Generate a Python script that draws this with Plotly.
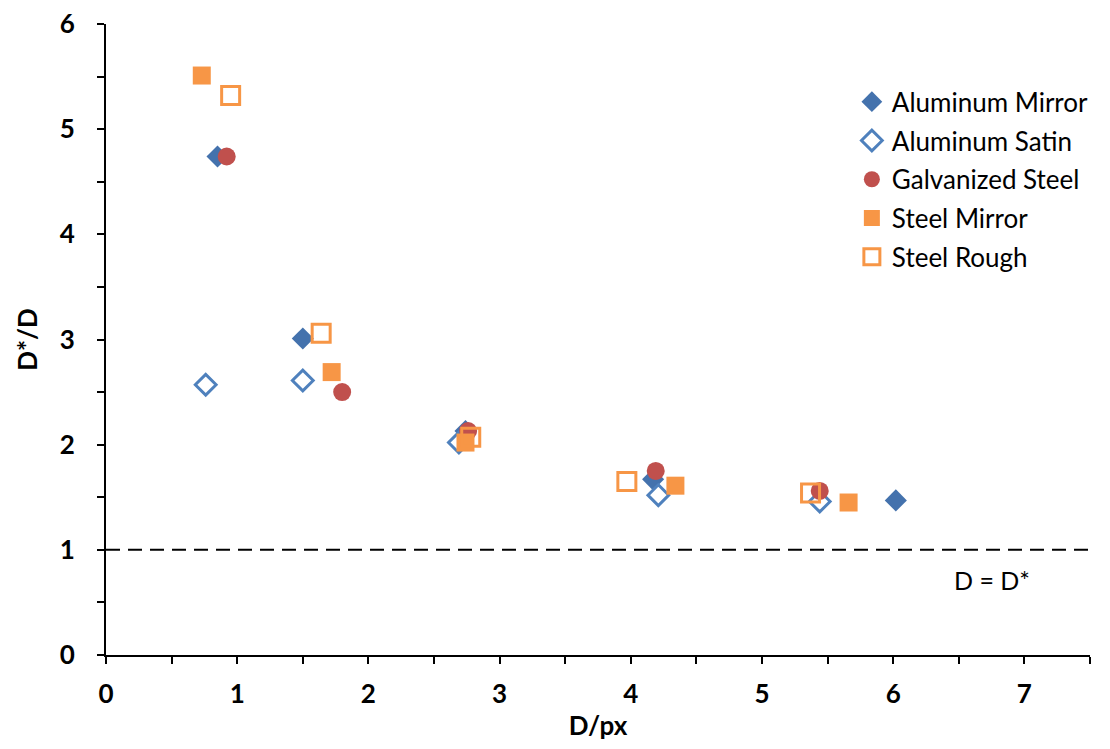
import plotly.graph_objects as go

al_mirror_x = [0.85, 1.50, 2.74, 4.17, 6.02]
al_mirror_y = [4.74, 3.01, 2.13, 1.67, 1.47]
al_satin_x = [0.76, 1.50, 2.69, 4.21, 5.44]
al_satin_y = [2.57, 2.61, 2.02, 1.52, 1.46]
galv_x = [0.92, 1.80, 2.76, 4.19, 5.44]
galv_y = [4.74, 2.50, 2.13, 1.75, 1.56]
st_mirror_x = [0.73, 1.72, 2.74, 4.34, 5.66]
st_mirror_y = [5.51, 2.69, 2.02, 1.61, 1.45]
st_rough_x = [0.95, 1.64, 2.78, 3.97, 5.37]
st_rough_y = [5.32, 3.06, 2.07, 1.65, 1.54]
ref_x = [0, 7.5]
ref_y = [1, 1]

blue = "#4472AD"
blue2 = "#4F81BD"
red = "#C0504D"
orange = "#F79646"
FONT = "Lato"

fig = go.Figure()
fig.add_trace(go.Scatter(x=ref_x, y=ref_y, mode="lines", showlegend=False,
                         line=dict(color="black", width=2, dash="14px,8px")))
fig.add_trace(go.Scatter(x=al_mirror_x, y=al_mirror_y, mode="markers", name="Aluminum Mirror",
                         legendgroup="a",
                         marker=dict(symbol="diamond", size=17, color=blue)))
fig.add_trace(go.Scatter(x=al_satin_x, y=al_satin_y, mode="markers", name="Aluminum Satin",
                         legendgroup="b",
                         marker=dict(symbol="diamond-open", size=16, color=blue2, line=dict(width=3, color=blue2))))
fig.add_trace(go.Scatter(x=galv_x, y=galv_y, mode="markers", name="Galvanized Steel",
                         legendgroup="c",
                         marker=dict(symbol="circle", size=18, color=red)))
fig.add_trace(go.Scatter(x=st_mirror_x, y=st_mirror_y, mode="markers", name="Steel Mirror",
                         legendgroup="d",
                         marker=dict(symbol="square", size=18, color=orange)))
fig.add_trace(go.Scatter(x=st_rough_x, y=st_rough_y, mode="markers", name="Steel Rough",
                         legendgroup="e",
                         marker=dict(symbol="square-open", size=18, color=orange, line=dict(width=3, color=orange))))

fig.add_annotation(x=6.75, y=0.71, text="D = D*", showarrow=False,
                   font=dict(family=FONT, size=25, color="black"))

axis_common = dict(showline=True, linecolor="black", linewidth=2, showgrid=False, zeroline=False,
                   automargin=False, ticklabeloverflow="allow",
                   ticks="outside", ticklen=7, tickwidth=2, tickcolor="black",
                   tickfont=dict(family=FONT, size=26, color="black", weight="bold"),
                   minor=dict(ticks="outside", ticklen=7, tickwidth=2, tickcolor="black", dtick=0.5))

fig.update_xaxes(range=[0, 7.5], dtick=1, tick0=0, ticklabelstandoff=8,
                 title=dict(text="D/px", font=dict(family=FONT, size=26, color="black", weight="bold"), standoff=7),
                 **axis_common)
fig.update_yaxes(range=[0, 6], dtick=1, tick0=0, ticklabelstandoff=17,
                 title=dict(text="D*/D", font=dict(family=FONT, size=26, color="black", weight="bold"), standoff=15),
                 **axis_common)

fig.update_layout(
    width=1102, height=741,
    margin=dict(l=98, r=20, t=16, b=94),
    plot_bgcolor="white", paper_bgcolor="white",
    legend=dict(x=0.758, y=0.914, xanchor="left", yanchor="top", tracegroupgap=2,
                font=dict(family=FONT, size=26, color="black"), bgcolor="rgba(0,0,0,0)",
                itemwidth=30),
)

fig.write_html("out.html")
